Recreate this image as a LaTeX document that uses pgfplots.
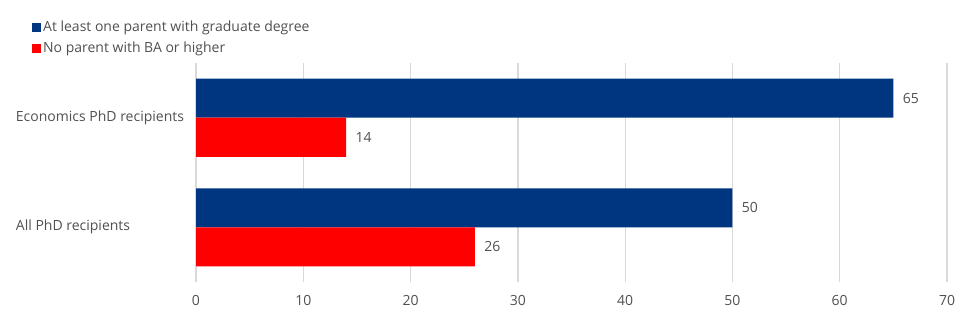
\documentclass[border=0pt]{standalone}
\usepackage{pgfplots}
\pgfplotsset{compat=1.18}
\usepackage{fontspec}
\setmainfont{Open Sans}
\definecolor{navy}{RGB}{0,53,128}
\definecolor{txt}{RGB}{80,80,80}
\definecolor{gridc}{RGB}{217,217,217}
\newcommand{\cf}{\fontsize{14bp}{16bp}\selectfont}
\begin{document}
\begin{tikzpicture}[x=1bp,y=1bp]
\useasboundingbox (0,0) rectangle (972,318);
\begin{axis}[
  at={(196bp,36bp)}, anchor=south west,
  scale only axis, width=751bp, height=219bp,
  xbar, bar width=39bp,
  xmin=0, xmax=70, ymin=-0.5, ymax=1.5,
  xtick={0,10,...,70},
  ytick={0,1}, yticklabels={All PhD recipients, Economics PhD recipients},
  xmajorgrids, major grid style={gridc, line width=1.3bp},
  axis line style={draw=none},
  tick style={draw=none},
  /pgf/number format/assume math mode=true,
  ticklabel style={font=\cf, text=txt},
  xticklabel style={yshift=-10bp},
  yticklabel style={anchor=west, inner sep=0pt, xshift=-176bp},
  nodes near coords,
  nodes near coords style={anchor=west, xshift=6bp, font=\cf, text=txt},
  legend style={at={(axis description cs:-0.2224,1.211)}, anchor=north west,
    draw=none, fill=none, legend cell align=left, font=\cf, text=txt,
    row sep=5bp},
  legend image code/.code={\fill[#1] (0bp,-4.5bp) rectangle (9bp,4.5bp);},
]
\addplot[fill=navy, draw=none, bar shift=19.5bp] coordinates {(50,0) (65,1)};
\addplot[fill=red, draw=none, bar shift=-19.5bp] coordinates {(26,0) (14,1)};
\legend{At least one parent with graduate degree, No parent with BA or higher}
\end{axis}
\end{tikzpicture}
\end{document}
